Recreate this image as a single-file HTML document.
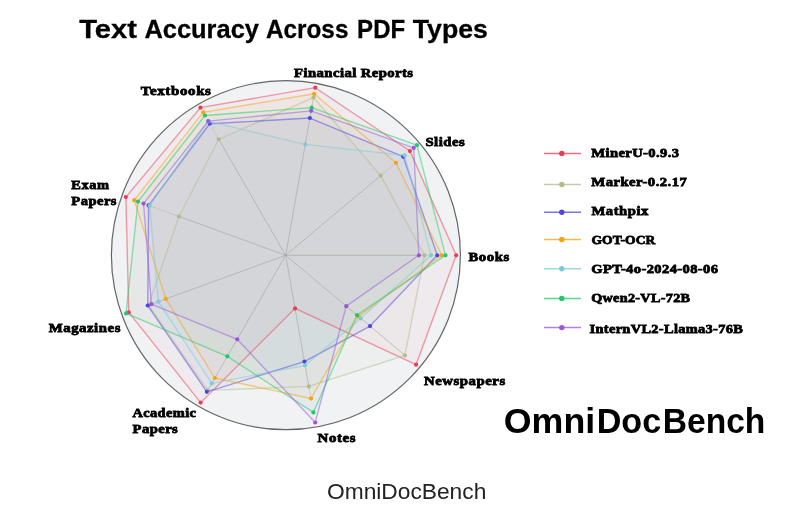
<!DOCTYPE html>
<html><head><meta charset="utf-8"><title>Text Accuracy Across PDF Types</title>
<style>
html,body{margin:0;padding:0;background:#fff;width:800px;height:509px;overflow:hidden}
svg{display:block;will-change:transform}
.lb,.lg{font-family:"Liberation Serif",serif;font-weight:bold;font-size:13.5px;fill:#000;stroke:#000;stroke-width:0.8px}
.tt{font-family:"Liberation Sans",sans-serif;font-weight:bold;font-size:26.5px;fill:#000;stroke:#000;stroke-width:0.3px}
.br{font-family:"Liberation Sans",sans-serif;font-weight:bold;font-size:35px;fill:#000}
.cap{font-family:"Liberation Sans",sans-serif;font-size:22px;fill:#222}
</style></head><body>
<svg width="800" height="509" viewBox="0 0 800 509">
<g>
<circle cx="285.9" cy="255.2" r="174.5" fill="#f0f2f4"/>
<polygon points="456.20,255.30 409.95,151.04 315.25,87.69 200.45,107.64 125.86,197.12 128.77,312.42 200.65,402.61 295.06,308.38 416.08,364.70" fill="#ee3b55" fill-opacity="0.045" stroke="none"/>
<polygon points="424.50,255.30 380.69,175.59 313.54,97.44 218.70,139.25 178.95,216.45 148.50,305.23 207.70,390.40 308.81,386.38 404.90,355.32" fill="#b3bb8a" fill-opacity="0.045" stroke="none"/>
<polygon points="437.30,255.30 403.21,156.70 309.91,118.02 209.75,123.75 148.60,205.40 147.75,305.51 206.85,391.87 304.44,361.56 370.04,326.07" fill="#4b46e0" fill-opacity="0.045" stroke="none"/>
<polygon points="441.70,255.30 395.93,162.80 314.18,93.79 203.15,112.32 134.32,200.20 165.80,298.94 214.85,378.02 310.95,398.49 358.47,316.36" fill="#f5a30f" fill-opacity="0.045" stroke="none"/>
<polygon points="431.10,255.30 404.74,155.41 305.27,144.31 208.40,121.41 149.63,205.78 158.37,301.64 211.80,383.30 305.13,365.50 360.77,318.29" fill="#7ccbd6" fill-opacity="0.045" stroke="none"/>
<polygon points="445.50,255.30 416.92,145.19 311.73,107.68 205.00,115.52 137.98,201.53 126.05,313.41 227.35,356.37 313.40,412.38 356.94,315.08" fill="#22c968" fill-opacity="0.045" stroke="none"/>
<polygon points="418.90,255.30 413.71,147.89 311.17,110.83 208.20,121.07 143.52,203.55 151.42,304.17 237.20,339.30 315.19,422.52 346.29,306.14" fill="#9a55dd" fill-opacity="0.045" stroke="none"/>
<line x1="285.7" y1="255.3" x2="424.50" y2="255.30" stroke="#9a9a92" stroke-width="1" stroke-opacity="0.5"/>
<line x1="424.50" y1="255.30" x2="433.70" y2="255.30" stroke="#9a9a92" stroke-width="1" stroke-opacity="0.3"/>
<line x1="285.7" y1="255.3" x2="380.69" y2="175.59" stroke="#9a9a92" stroke-width="1" stroke-opacity="0.5"/>
<line x1="380.69" y1="175.59" x2="399.07" y2="160.17" stroke="#9a9a92" stroke-width="1" stroke-opacity="0.3"/>
<line x1="285.7" y1="255.3" x2="313.54" y2="97.44" stroke="#9a9a92" stroke-width="1" stroke-opacity="0.5"/>
<line x1="285.7" y1="255.3" x2="218.70" y2="139.25" stroke="#9a9a92" stroke-width="1" stroke-opacity="0.5"/>
<line x1="218.70" y1="139.25" x2="211.70" y2="127.13" stroke="#9a9a92" stroke-width="1" stroke-opacity="0.3"/>
<line x1="285.7" y1="255.3" x2="178.95" y2="216.45" stroke="#9a9a92" stroke-width="1" stroke-opacity="0.5"/>
<line x1="178.95" y1="216.45" x2="146.63" y2="204.68" stroke="#9a9a92" stroke-width="1" stroke-opacity="0.3"/>
<line x1="285.7" y1="255.3" x2="148.50" y2="305.23" stroke="#9a9a92" stroke-width="1" stroke-opacity="0.5"/>
<line x1="148.50" y1="305.23" x2="146.63" y2="305.92" stroke="#9a9a92" stroke-width="1" stroke-opacity="0.3"/>
<line x1="285.7" y1="255.3" x2="207.70" y2="390.40" stroke="#9a9a92" stroke-width="1" stroke-opacity="0.5"/>
<line x1="285.7" y1="255.3" x2="308.81" y2="386.38" stroke="#9a9a92" stroke-width="1" stroke-opacity="0.5"/>
<line x1="308.81" y1="386.38" x2="311.40" y2="401.05" stroke="#9a9a92" stroke-width="1" stroke-opacity="0.3"/>
<line x1="285.7" y1="255.3" x2="404.90" y2="355.32" stroke="#9a9a92" stroke-width="1" stroke-opacity="0.5"/>
<polygon points="456.20,255.30 409.95,151.04 315.25,87.69 200.45,107.64 125.86,197.12 128.77,312.42 200.65,402.61 295.06,308.38 416.08,364.70" fill="none" stroke="#ee3b55" stroke-width="1.35" stroke-opacity="0.5" stroke-linejoin="round"/>
<circle cx="456.20" cy="255.30" r="2.1" fill="#ee3b55"/>
<circle cx="409.95" cy="151.04" r="2.1" fill="#ee3b55"/>
<circle cx="315.25" cy="87.69" r="2.1" fill="#ee3b55"/>
<circle cx="200.45" cy="107.64" r="2.1" fill="#ee3b55"/>
<circle cx="125.86" cy="197.12" r="2.1" fill="#ee3b55"/>
<circle cx="128.77" cy="312.42" r="2.1" fill="#ee3b55"/>
<circle cx="200.65" cy="402.61" r="2.1" fill="#ee3b55"/>
<circle cx="295.06" cy="308.38" r="2.1" fill="#ee3b55"/>
<circle cx="416.08" cy="364.70" r="2.1" fill="#ee3b55"/>
<polygon points="424.50,255.30 380.69,175.59 313.54,97.44 218.70,139.25 178.95,216.45 148.50,305.23 207.70,390.40 308.81,386.38 404.90,355.32" fill="none" stroke="#b3bb8a" stroke-width="1.35" stroke-opacity="0.5" stroke-linejoin="round"/>
<circle cx="424.50" cy="255.30" r="2.1" fill="#b3bb8a"/>
<circle cx="380.69" cy="175.59" r="2.1" fill="#b3bb8a"/>
<circle cx="313.54" cy="97.44" r="2.1" fill="#b3bb8a"/>
<circle cx="218.70" cy="139.25" r="2.1" fill="#b3bb8a"/>
<circle cx="178.95" cy="216.45" r="2.1" fill="#b3bb8a"/>
<circle cx="148.50" cy="305.23" r="2.1" fill="#b3bb8a"/>
<circle cx="207.70" cy="390.40" r="2.1" fill="#b3bb8a"/>
<circle cx="308.81" cy="386.38" r="2.1" fill="#b3bb8a"/>
<circle cx="404.90" cy="355.32" r="2.1" fill="#b3bb8a"/>
<polygon points="437.30,255.30 403.21,156.70 309.91,118.02 209.75,123.75 148.60,205.40 147.75,305.51 206.85,391.87 304.44,361.56 370.04,326.07" fill="none" stroke="#4b46e0" stroke-width="1.35" stroke-opacity="0.5" stroke-linejoin="round"/>
<circle cx="437.30" cy="255.30" r="2.1" fill="#4b46e0"/>
<circle cx="403.21" cy="156.70" r="2.1" fill="#4b46e0"/>
<circle cx="309.91" cy="118.02" r="2.1" fill="#4b46e0"/>
<circle cx="209.75" cy="123.75" r="2.1" fill="#4b46e0"/>
<circle cx="148.60" cy="205.40" r="2.1" fill="#4b46e0"/>
<circle cx="147.75" cy="305.51" r="2.1" fill="#4b46e0"/>
<circle cx="206.85" cy="391.87" r="2.1" fill="#4b46e0"/>
<circle cx="304.44" cy="361.56" r="2.1" fill="#4b46e0"/>
<circle cx="370.04" cy="326.07" r="2.1" fill="#4b46e0"/>
<polygon points="441.70,255.30 395.93,162.80 314.18,93.79 203.15,112.32 134.32,200.20 165.80,298.94 214.85,378.02 310.95,398.49 358.47,316.36" fill="none" stroke="#f5a30f" stroke-width="1.35" stroke-opacity="0.5" stroke-linejoin="round"/>
<circle cx="441.70" cy="255.30" r="2.1" fill="#f5a30f"/>
<circle cx="395.93" cy="162.80" r="2.1" fill="#f5a30f"/>
<circle cx="314.18" cy="93.79" r="2.1" fill="#f5a30f"/>
<circle cx="203.15" cy="112.32" r="2.1" fill="#f5a30f"/>
<circle cx="134.32" cy="200.20" r="2.1" fill="#f5a30f"/>
<circle cx="165.80" cy="298.94" r="2.1" fill="#f5a30f"/>
<circle cx="214.85" cy="378.02" r="2.1" fill="#f5a30f"/>
<circle cx="310.95" cy="398.49" r="2.1" fill="#f5a30f"/>
<circle cx="358.47" cy="316.36" r="2.1" fill="#f5a30f"/>
<polygon points="431.10,255.30 404.74,155.41 305.27,144.31 208.40,121.41 149.63,205.78 158.37,301.64 211.80,383.30 305.13,365.50 360.77,318.29" fill="none" stroke="#7ccbd6" stroke-width="1.35" stroke-opacity="0.5" stroke-linejoin="round"/>
<circle cx="431.10" cy="255.30" r="2.1" fill="#7ccbd6"/>
<circle cx="404.74" cy="155.41" r="2.1" fill="#7ccbd6"/>
<circle cx="305.27" cy="144.31" r="2.1" fill="#7ccbd6"/>
<circle cx="208.40" cy="121.41" r="2.1" fill="#7ccbd6"/>
<circle cx="149.63" cy="205.78" r="2.1" fill="#7ccbd6"/>
<circle cx="158.37" cy="301.64" r="2.1" fill="#7ccbd6"/>
<circle cx="211.80" cy="383.30" r="2.1" fill="#7ccbd6"/>
<circle cx="305.13" cy="365.50" r="2.1" fill="#7ccbd6"/>
<circle cx="360.77" cy="318.29" r="2.1" fill="#7ccbd6"/>
<polygon points="445.50,255.30 416.92,145.19 311.73,107.68 205.00,115.52 137.98,201.53 126.05,313.41 227.35,356.37 313.40,412.38 356.94,315.08" fill="none" stroke="#22c968" stroke-width="1.35" stroke-opacity="0.5" stroke-linejoin="round"/>
<circle cx="445.50" cy="255.30" r="2.1" fill="#22c968"/>
<circle cx="416.92" cy="145.19" r="2.1" fill="#22c968"/>
<circle cx="311.73" cy="107.68" r="2.1" fill="#22c968"/>
<circle cx="205.00" cy="115.52" r="2.1" fill="#22c968"/>
<circle cx="137.98" cy="201.53" r="2.1" fill="#22c968"/>
<circle cx="126.05" cy="313.41" r="2.1" fill="#22c968"/>
<circle cx="227.35" cy="356.37" r="2.1" fill="#22c968"/>
<circle cx="313.40" cy="412.38" r="2.1" fill="#22c968"/>
<circle cx="356.94" cy="315.08" r="2.1" fill="#22c968"/>
<polygon points="418.90,255.30 413.71,147.89 311.17,110.83 208.20,121.07 143.52,203.55 151.42,304.17 237.20,339.30 315.19,422.52 346.29,306.14" fill="none" stroke="#9a55dd" stroke-width="1.35" stroke-opacity="0.5" stroke-linejoin="round"/>
<circle cx="418.90" cy="255.30" r="2.1" fill="#9a55dd"/>
<circle cx="413.71" cy="147.89" r="2.1" fill="#9a55dd"/>
<circle cx="311.17" cy="110.83" r="2.1" fill="#9a55dd"/>
<circle cx="208.20" cy="121.07" r="2.1" fill="#9a55dd"/>
<circle cx="143.52" cy="203.55" r="2.1" fill="#9a55dd"/>
<circle cx="151.42" cy="304.17" r="2.1" fill="#9a55dd"/>
<circle cx="237.20" cy="339.30" r="2.1" fill="#9a55dd"/>
<circle cx="315.19" cy="422.52" r="2.1" fill="#9a55dd"/>
<circle cx="346.29" cy="306.14" r="2.1" fill="#9a55dd"/>
<circle cx="285.9" cy="255.2" r="174.5" fill="none" stroke="#4a4a4a" stroke-width="1.2" stroke-opacity="0.85"/>
<text transform="translate(294.10,77.20) scale(1.0897,1)" x="0" y="0" textLength="109.21" lengthAdjust="spacing" class="lb">Financial Reports</text>
<text transform="translate(140.75,94.60) scale(1.1125,1)" x="0" y="0" textLength="63.10" lengthAdjust="spacing" class="lb">Textbooks</text>
<text transform="translate(425.40,145.60) scale(1.0969,1)" x="0" y="0" textLength="35.92" lengthAdjust="spacing" class="lb">Slides</text>
<text transform="translate(468.40,260.90) scale(1.0913,1)" x="0" y="0" textLength="37.39" lengthAdjust="spacing" class="lb">Books</text>
<text transform="translate(424.00,384.60) scale(1.0954,1)" x="0" y="0" textLength="74.13" lengthAdjust="spacing" class="lb">Newspapers</text>
<text transform="translate(317.60,441.90) scale(1.1017,1)" x="0" y="0" textLength="34.40" lengthAdjust="spacing" class="lb">Notes</text>
<text transform="translate(132.50,416.80) scale(1.0662,1)" x="0" y="0" textLength="59.47" lengthAdjust="spacing" class="lb">Academic</text>
<text transform="translate(132.50,433.20) scale(1.0816,1)" x="0" y="0" textLength="41.88" lengthAdjust="spacing" class="lb">Papers</text>
<text transform="translate(48.70,332.40) scale(1.0966,1)" x="0" y="0" textLength="65.39" lengthAdjust="spacing" class="lb">Magazines</text>
<text transform="translate(71.30,189.30) scale(1.0687,1)" x="0" y="0" textLength="35.28" lengthAdjust="spacing" class="lb">Exam</text>
<text transform="translate(71.30,204.60) scale(1.0801,1)" x="0" y="0" textLength="41.85" lengthAdjust="spacing" class="lb">Papers</text>
<line x1="544" y1="153.55" x2="581" y2="153.55" stroke="#ee3b55" stroke-width="1.5" stroke-opacity="0.75"/>
<circle cx="561.8" cy="153.55" r="2.7" fill="#ee3b55"/>
<text transform="translate(591.30,157.40) scale(1.0800,1)" x="0" y="0" textLength="81.30" lengthAdjust="spacing" class="lg">MinerU-0.9.3</text>
<line x1="544" y1="184.5" x2="581" y2="184.5" stroke="#b3bb8a" stroke-width="1.5" stroke-opacity="0.75"/>
<circle cx="561.8" cy="184.5" r="2.7" fill="#b3bb8a"/>
<text transform="translate(591.30,185.70) scale(1.0905,1)" x="0" y="0" textLength="87.66" lengthAdjust="spacing" class="lg">Marker-0.2.17</text>
<line x1="544" y1="212.2" x2="581" y2="212.2" stroke="#4b46e0" stroke-width="1.5" stroke-opacity="0.75"/>
<circle cx="561.8" cy="212.2" r="2.7" fill="#4b46e0"/>
<text transform="translate(591.50,214.80) scale(1.0859,1)" x="0" y="0" textLength="52.31" lengthAdjust="spacing" class="lg">Mathpix</text>
<line x1="544" y1="239.5" x2="581" y2="239.5" stroke="#f5a30f" stroke-width="1.5" stroke-opacity="0.75"/>
<circle cx="561.8" cy="239.5" r="2.7" fill="#f5a30f"/>
<text transform="translate(591.50,243.70) scale(1.0050,1)" x="0" y="0" textLength="63.48" lengthAdjust="spacing" class="lg">GOT-OCR</text>
<line x1="544" y1="268.7" x2="581" y2="268.7" stroke="#7ccbd6" stroke-width="1.5" stroke-opacity="0.75"/>
<circle cx="561.8" cy="268.7" r="2.7" fill="#7ccbd6"/>
<text transform="translate(591.20,272.50) scale(1.0773,1)" x="0" y="0" textLength="117.71" lengthAdjust="spacing" class="lg">GPT-4o-2024-08-06</text>
<line x1="544" y1="298.4" x2="581" y2="298.4" stroke="#22c968" stroke-width="1.5" stroke-opacity="0.75"/>
<circle cx="561.8" cy="298.4" r="2.7" fill="#22c968"/>
<text transform="translate(591.20,301.60) scale(1.0522,1)" x="0" y="0" textLength="93.90" lengthAdjust="spacing" class="lg">Qwen2-VL-72B</text>
<line x1="544" y1="327.6" x2="581" y2="327.6" stroke="#9a55dd" stroke-width="1.5" stroke-opacity="0.75"/>
<circle cx="561.8" cy="327.6" r="2.7" fill="#9a55dd"/>
<text transform="translate(589.50,332.70) scale(1.0654,1)" x="0" y="0" textLength="143.98" lengthAdjust="spacing" class="lg">InternVL2-Llama3-76B</text>
<text x="79.2" y="37.7" textLength="57.8" lengthAdjust="spacingAndGlyphs" class="tt">Text</text>
<text x="144.4" y="37.7" textLength="114.6" lengthAdjust="spacingAndGlyphs" class="tt">Accuracy</text>
<text x="266.0" y="37.7" textLength="82.4" lengthAdjust="spacingAndGlyphs" class="tt">Across</text>
<text x="357.1" y="37.7" textLength="48.1" lengthAdjust="spacingAndGlyphs" class="tt">PDF</text>
<text x="412.8" y="37.7" textLength="75.1" lengthAdjust="spacingAndGlyphs" class="tt">Types</text>
<text x="503.8" y="433" textLength="91.4" lengthAdjust="spacingAndGlyphs" class="br">Omni</text>
<text x="596.7" y="433" textLength="64.5" lengthAdjust="spacingAndGlyphs" class="br">Doc</text>
<text x="662.7" y="433" textLength="102.7" lengthAdjust="spacingAndGlyphs" class="br">Bench</text>
<text x="327" y="498.7" textLength="159.3" lengthAdjust="spacingAndGlyphs" class="cap">OmniDocBench</text>
</g>
</svg>
</body></html>
